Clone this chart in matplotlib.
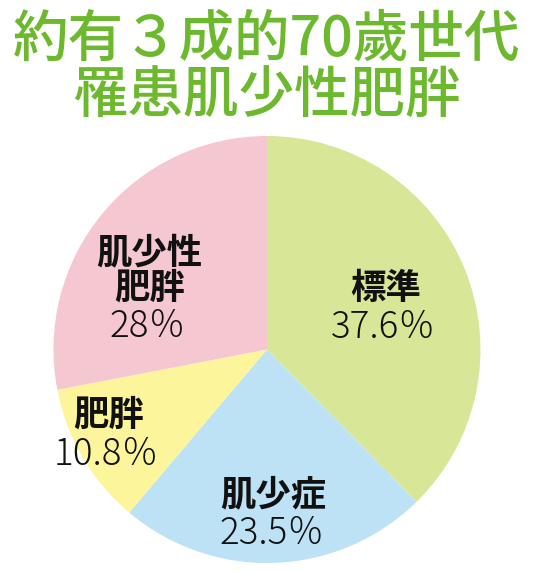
import matplotlib.pyplot as plt
import numpy as np

plt.rcParams["font.family"] = ["Noto Sans CJK JP", "DejaVu Sans"]

title_lines = ["約有３成的70歲世代", "罹患肌少性肥胖"]
labels = ["標準", "肌少症", "肥胖", "肌少性\n肥胖"]
values = [37.6, 23.5, 10.8, 28]
pct_text = ["37.6％", "23.5％", "10.8％", "28％"]
colors = ["#d8e698", "#bde2f6", "#fdf59c", "#f5c7d0"]

W, H = 533, 572
fig = plt.figure(figsize=(W / 100, H / 100), dpi=100)
ax = fig.add_axes([0, 0, 1, 1])

cx, cy, r = 267, H - 349.5, 213.5
wedges, _ = ax.pie(values, colors=colors, startangle=90, counterclock=False,
                   center=(cx, cy), radius=r, frame=True,
                   wedgeprops=dict(linewidth=0))
ax.set_xlim(0, W)
ax.set_ylim(0, H)
ax.set_aspect("equal")
ax.axis("off")

# where the percentage sits: fraction of radius and angle shift from mid-wedge
dist = [0.553, 0.865, 0.897, 0.571]
shift = [-11.8, -0.7, 2.8, 29.0]
for w, lab, pct, d, s in zip(wedges, labels, pct_text, dist, shift):
    ang = np.deg2rad((w.theta1 + w.theta2) / 2 + s)
    x = cx + d * r * np.cos(ang)
    y = cy + d * r * np.sin(ang)
    ax.text(x, y, pct, ha="center", va="center", fontsize=26.5,
            fontweight=300, color="#111111")
    ax.text(x + 2, y + 22, lab, ha="center", va="bottom", fontsize=25.5,
            fontweight="bold", color="#111111", linespacing=0.98)

for i, line in enumerate(title_lines):
    fig.text(0.5, 1 - (40 + 57 * i) / H, line, ha="center", va="center",
             fontsize=40, fontweight=500, color="#6cb92e")

fig.savefig("out.png", dpi=100)
